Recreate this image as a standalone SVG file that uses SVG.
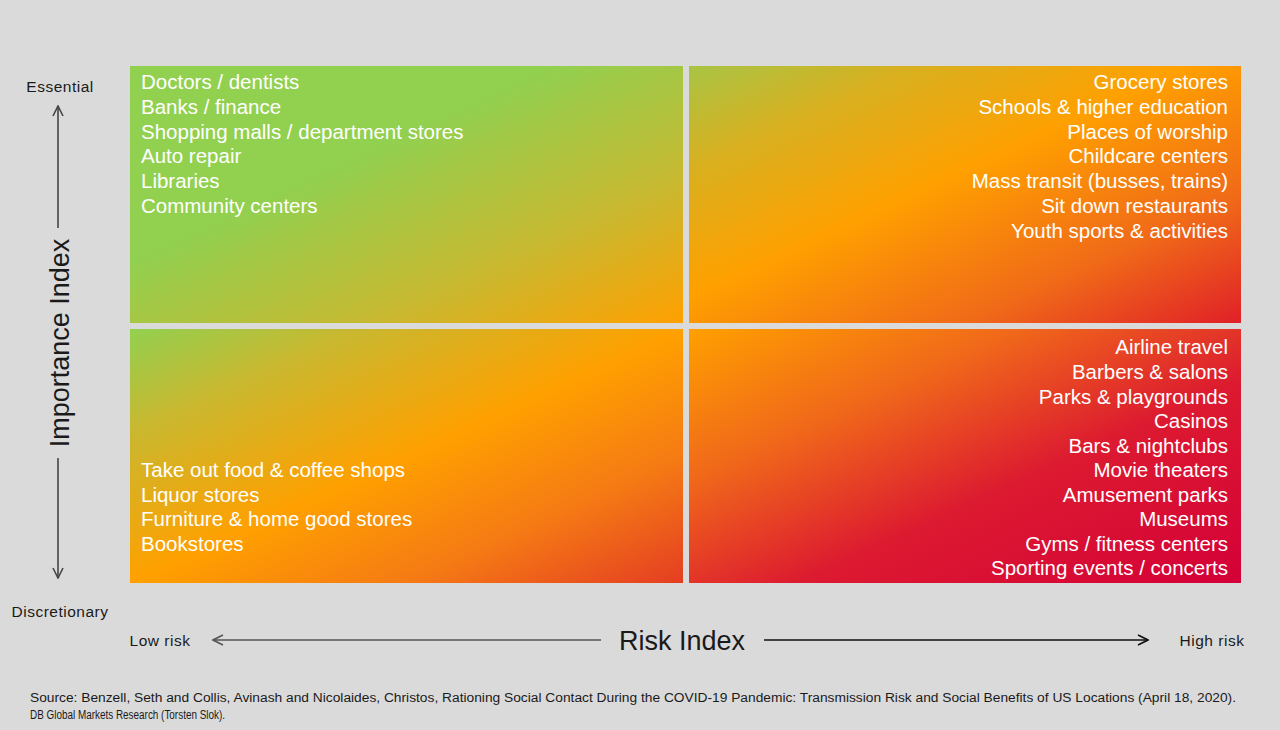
<svg xmlns="http://www.w3.org/2000/svg" width="1280" height="730" viewBox="0 0 1280 730">
<defs>
<style>
.it{font-family:"Liberation Sans",Arial,sans-serif;font-size:20.5px;fill:#ffffff}
.r{text-anchor:end}
.lab{font-family:"Liberation Sans",Arial,sans-serif;font-size:15.5px;letter-spacing:0.5px;fill:#1a1a1a}
.ttl{font-family:"Liberation Sans",Arial,sans-serif;font-size:27px;fill:#1a1a1a}
.src{font-family:"Liberation Sans",Arial,sans-serif;font-size:12.3px;fill:#1a1a1a}
.ax{fill:none;stroke-width:1.6}
</style>
<linearGradient id="gTL" x1="0" y1="0" x2="1" y2="1">
<stop offset="0" stop-color="#92d050"/>
<stop offset="0.38" stop-color="#92d050"/>
<stop offset="0.72" stop-color="#c8b830"/>
<stop offset="1" stop-color="#ffa000"/>
</linearGradient>
<linearGradient id="gTR" x1="0" y1="0" x2="1" y2="1">
<stop offset="0" stop-color="#a8c444"/>
<stop offset="0.2" stop-color="#d8b020"/>
<stop offset="0.45" stop-color="#ffa000"/>
<stop offset="0.75" stop-color="#f06a18"/>
<stop offset="1" stop-color="#e02028"/>
</linearGradient>
<linearGradient id="gBL" x1="0" y1="0" x2="1" y2="1">
<stop offset="0" stop-color="#92d050"/>
<stop offset="0.2" stop-color="#c8b830"/>
<stop offset="0.5" stop-color="#ffa000"/>
<stop offset="0.75" stop-color="#f57a14"/>
<stop offset="1" stop-color="#e43e22"/>
</linearGradient>
<linearGradient id="gBR" x1="0" y1="0" x2="1" y2="1">
<stop offset="0" stop-color="#ffa000"/>
<stop offset="0.3" stop-color="#f0681a"/>
<stop offset="0.6" stop-color="#dc1a30"/>
<stop offset="1" stop-color="#d40038"/>
</linearGradient>
<marker id="ah" viewBox="0 0 12 12" refX="11" refY="6" markerWidth="12" markerHeight="12" markerUnits="userSpaceOnUse" orient="auto-start-reverse">
<path d="M1,1 L11,6 L1,11" fill="none" stroke="context-stroke" stroke-width="1.6"/>
</marker>
</defs>
<rect x="0" y="0" width="1280" height="730" fill="#dadada"/>

<g id="quadrant-top-left">
<rect x="130" y="66" width="553" height="257" fill="url(#gTL)"/>
<text class="it" x="141" y="89">Doctors / dentists</text>
<text class="it" x="141" y="114">Banks / finance</text>
<text class="it" x="141" y="139">Shopping malls / department stores</text>
<text class="it" x="141" y="163">Auto repair</text>
<text class="it" x="141" y="188">Libraries</text>
<text class="it" x="141" y="213">Community centers</text>
</g>

<g id="quadrant-top-right">
<rect x="689" y="66" width="552" height="257" fill="url(#gTR)"/>
<text class="it r" x="1228" y="89">Grocery stores</text>
<text class="it r" x="1228" y="114">Schools &amp; higher education</text>
<text class="it r" x="1228" y="139">Places of worship</text>
<text class="it r" x="1228" y="163">Childcare centers</text>
<text class="it r" x="1228" y="188">Mass transit (busses, trains)</text>
<text class="it r" x="1228" y="213">Sit down restaurants</text>
<text class="it r" x="1228" y="238">Youth sports &amp; activities</text>
</g>

<g id="quadrant-bottom-left">
<rect x="130" y="329" width="553" height="254" fill="url(#gBL)"/>
<text class="it" x="141" y="477">Take out food &amp; coffee shops</text>
<text class="it" x="141" y="502">Liquor stores</text>
<text class="it" x="141" y="526">Furniture &amp; home good stores</text>
<text class="it" x="141" y="551">Bookstores</text>
</g>

<g id="quadrant-bottom-right">
<rect x="689" y="329" width="552" height="254" fill="url(#gBR)"/>
<text class="it r" x="1228" y="354">Airline travel</text>
<text class="it r" x="1228" y="379">Barbers &amp; salons</text>
<text class="it r" x="1228" y="404">Parks &amp; playgrounds</text>
<text class="it r" x="1228" y="428">Casinos</text>
<text class="it r" x="1228" y="453">Bars &amp; nightclubs</text>
<text class="it r" x="1228" y="477">Movie theaters</text>
<text class="it r" x="1228" y="502">Amusement parks</text>
<text class="it r" x="1228" y="526">Museums</text>
<text class="it r" x="1228" y="551">Gyms / fitness centers</text>
<text class="it r" x="1228" y="575">Sporting events / concerts</text>
</g>

<g id="connectors">
<line class="ax" x1="58" y1="228" x2="58" y2="106" stroke="#444" marker-end="url(#ah)"/>
<line class="ax" x1="58" y1="458" x2="58" y2="578" stroke="#444" marker-end="url(#ah)"/>
<line class="ax" x1="601" y1="640" x2="213" y2="640" stroke="#555" marker-end="url(#ah)"/>
<line class="ax" x1="764" y1="640" x2="1148" y2="640" stroke="#111" marker-end="url(#ah)"/>
</g>

<g id="axis-labels">
<text class="lab" x="60" y="92" text-anchor="middle">Essential</text>
<text class="lab" x="60" y="617" text-anchor="middle">Discretionary</text>
<text class="ttl" x="0" y="0" text-anchor="middle" transform="translate(69,343) rotate(-90)">Importance Index</text>
<text class="lab" x="160" y="646" text-anchor="middle">Low risk</text>
<text class="lab" x="1212" y="646" text-anchor="middle">High risk</text>
<text class="ttl" x="682" y="650" text-anchor="middle">Risk Index</text>
</g>

<g id="source">
<text class="src" x="30" y="702" textLength="1206" lengthAdjust="spacingAndGlyphs">Source: Benzell, Seth and Collis, Avinash and Nicolaides, Christos, Rationing Social Contact During the COVID-19 Pandemic: Transmission Risk and Social Benefits of US Locations (April 18, 2020).</text>
<text class="src" x="30" y="719" textLength="195" lengthAdjust="spacingAndGlyphs">DB Global Markets Research (Torsten Slok).</text>
</g>
</svg>
